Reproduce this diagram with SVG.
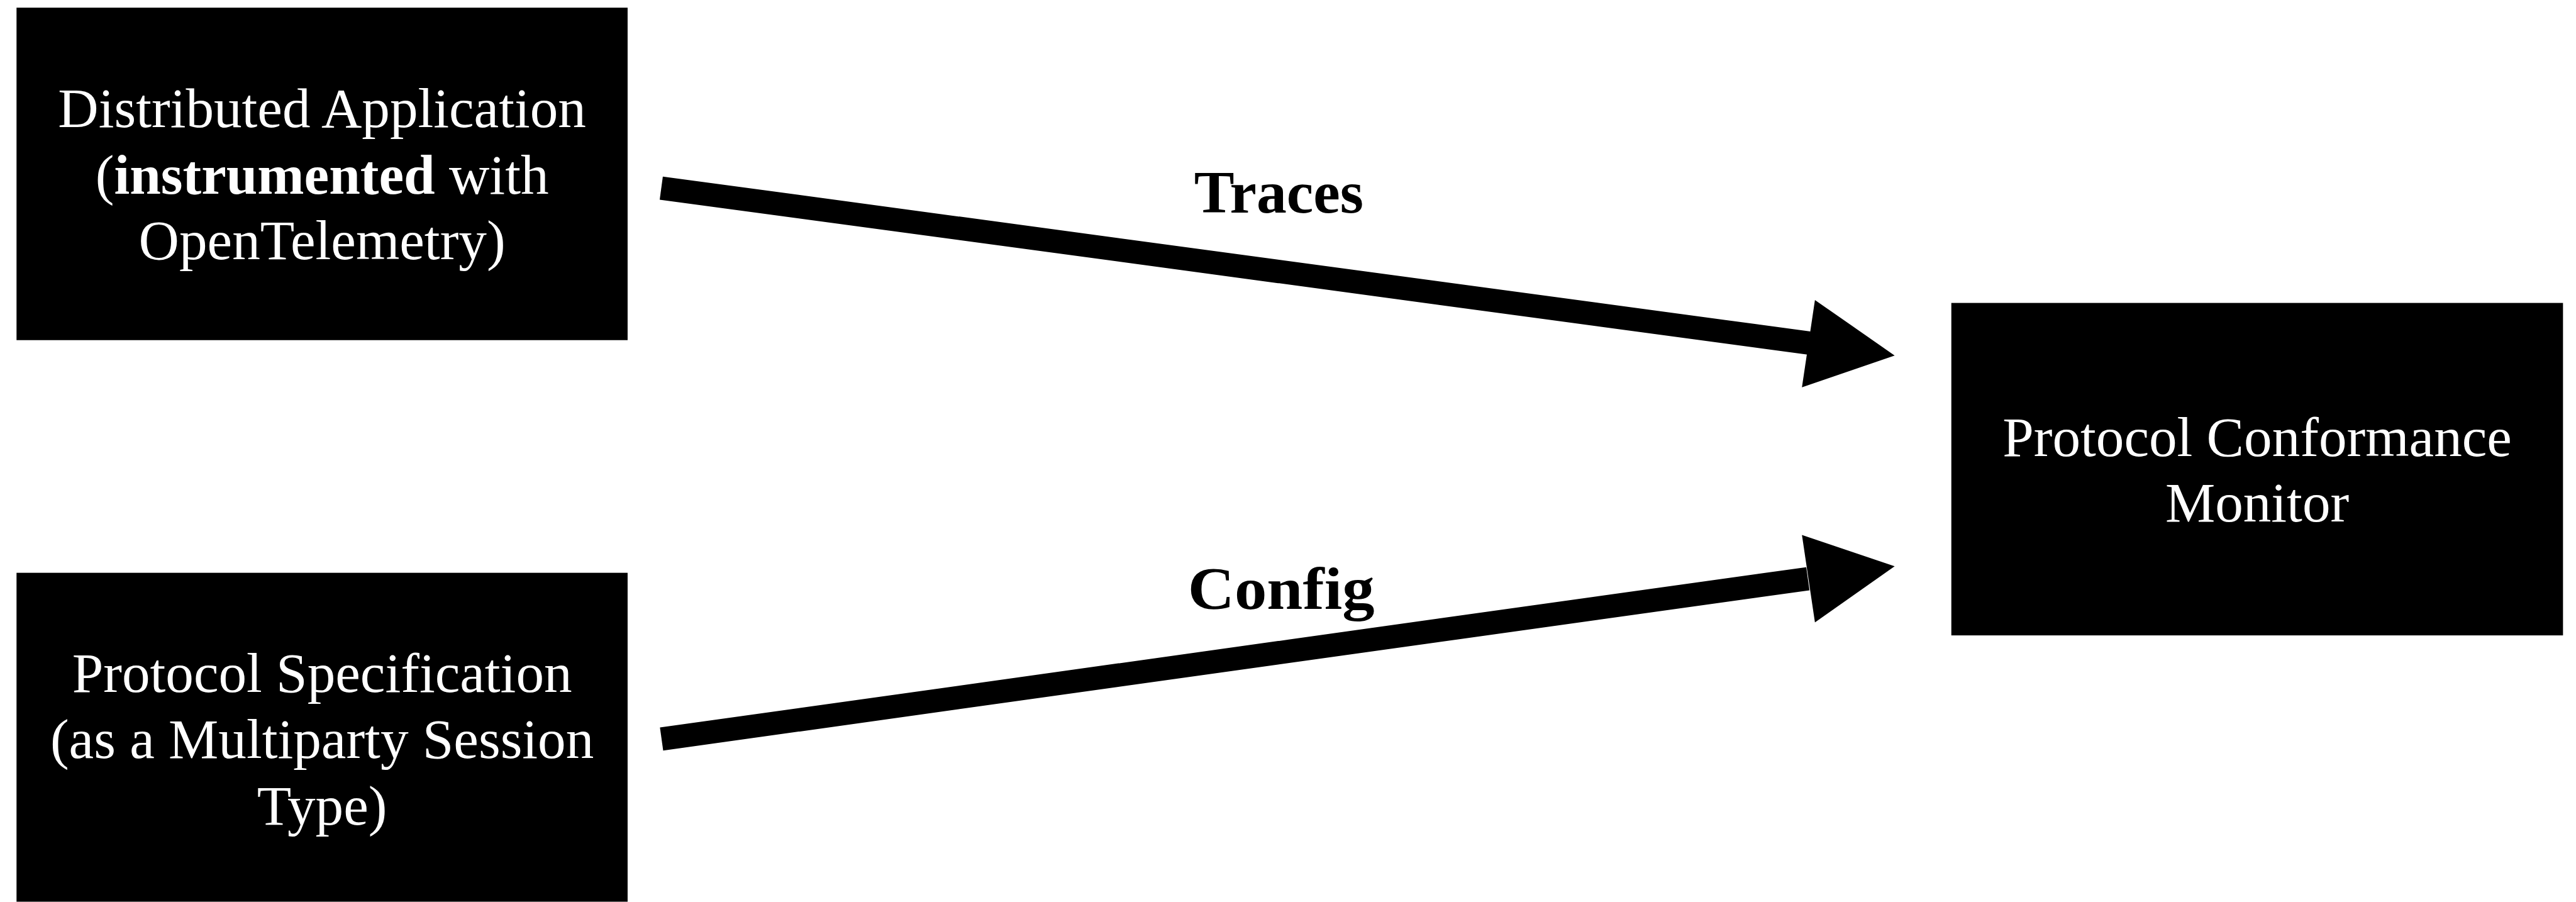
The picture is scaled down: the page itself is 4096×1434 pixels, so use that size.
<svg xmlns="http://www.w3.org/2000/svg" width="4096" height="1434" viewBox="0 0 4096 1434">
<style>
.box{fill:#000}
.nt{font-family:"Liberation Serif","Times New Roman",serif;font-size:95px;fill:#fff;text-anchor:middle}
.lbl{font-family:"Liberation Serif","Times New Roman",serif;font-size:102px;font-weight:bold;fill:#000;text-anchor:middle}
.shaft{stroke:#000;stroke-width:39.5;fill:none;stroke-linecap:butt}
.head{fill:#000}
</style>
<rect width="4096" height="1434" fill="#fff"/>
<g transform="scale(0.9388)">
<g id="connectors">
<g id="edge-traces">
<line class="shaft" x1="1120" y1="318.5" x2="3064" y2="581"/>
<polygon class="head" points="3074,508 3209,602 3052,656"/>
<text class="lbl" x="2166" y="360">Traces</text>
</g>
<g id="edge-config">
<line class="shaft" x1="1120.5" y1="1251.5" x2="3062" y2="980"/>
<polygon class="head" points="3052,906 3209,959 3074,1054"/>
<text class="lbl" x="2170" y="1031" textLength="316" lengthAdjust="spacingAndGlyphs">Config</text>
</g>
</g>
<g id="node-app">
<rect class="box" x="28" y="13" width="1035" height="563"/>
<text class="nt" x="545.5" y="215">Distributed Application</text>
<text class="nt" x="545.5" y="328">(<tspan font-weight="bold">instrumented</tspan> with</text>
<text class="nt" x="545.5" y="439">OpenTelemetry)</text>
</g>
<g id="node-spec">
<rect class="box" x="28" y="970" width="1035" height="557"/>
<text class="nt" x="545.5" y="1172">Protocol Specification</text>
<text class="nt" x="545.5" y="1284">(as a Multiparty Session</text>
<text class="nt" x="545.5" y="1396">Type)</text>
</g>
<g id="node-monitor">
<rect class="box" x="3305" y="513" width="1036" height="563"/>
<text class="nt" x="3823" y="772">Protocol Conformance</text>
<text class="nt" x="3823" y="883">Monitor</text>
</g>
</g>
</svg>
